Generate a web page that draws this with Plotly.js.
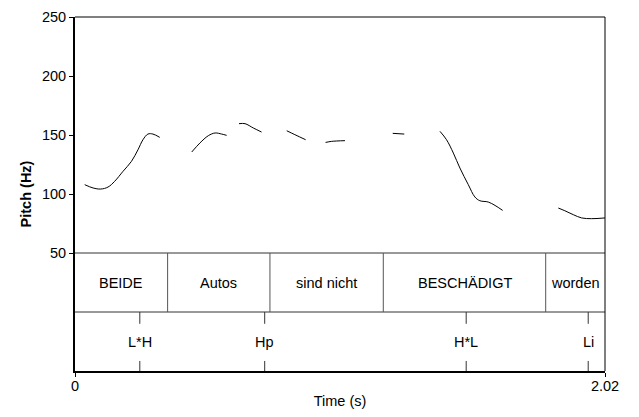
<!DOCTYPE html>
<html>
<head>
<meta charset="utf-8">
<script src="https://cdn.plot.ly/plotly-3.0.1.min.js"></script>
<style>html,body{margin:0;padding:0;background:#fff;}#chart{width:639px;height:417px;}</style>
</head>
<body>
<div id="chart"></div>
<script>
// Pitch contour (null = unvoiced gap)
const pitchTime = [0.037,0.069,0.098,0.126,0.151,0.183,0.215,0.240,0.259,0.278,0.297,0.323,null,
  0.445,0.476,0.508,0.534,0.559,0.578,null,
  0.625,0.648,0.680,0.711,null,
  0.807,0.838,0.879,null,
  0.955,0.978,1.029,null,
  1.211,1.255,null,
  1.391,1.416,1.442,1.467,1.499,1.524,1.543,1.575,1.601,1.630,null,
  1.842,1.867,1.899,1.931,1.969,2.02];
const pitchHz = [107.9,105.1,104.2,105.9,110.7,119.2,127.6,137.5,146,150.8,150.8,148,null,
  135.6,143.2,149.4,151.7,150.8,149.7,null,
  159.6,159.6,155.9,152.5,null,
  153.6,150.3,146,null,
  143.7,144.6,145.2,null,
  151.4,150.8,null,
  153.1,146,134.7,122,107.9,97.5,94.3,93.2,90.3,86.1,null,
  88.1,85.8,82.5,79.7,79.1,79.7];

// Word tier
const wordStart = [0, 0.353, 0.743, 1.175, 1.794];
const wordEnd = [0.353, 0.743, 1.175, 1.794, 2.02];
const wordLabels = ["BEIDE", "Autos", "sind nicht", "BESCHÄDIGT", "worden"];

// Tone tier
const toneTime = [0.247, 0.723, 1.491, 1.956];
const toneLabels = ["L*H", "Hp", "H*L", "Li"];

// Tier extents (Hz-axis units) and axis ticks
const tierWordTop = 50, tierWordBottom = 0, tierToneBottom = -50;
const yTicks = [50, 100, 150, 200, 250];
const xTickVals = [0, 2.02];
const xTickText = ["0", "2.02"];

const FONT = "Liberation Sans, Arial, Helvetica, sans-serif";
const FS = 14.5;

const shapes = [];
// horizontal tier lines
[tierWordTop, tierWordBottom].forEach(y => shapes.push({
  type: "line", xref: "x", yref: "y", x0: 0, x1: 2.02, y0: y, y1: y,
  line: {color: "#333", width: 1}
}));
// word boundaries
wordStart.slice(1).forEach(t => shapes.push({
  type: "line", xref: "x", yref: "y", x0: t, x1: t, y0: tierWordBottom, y1: tierWordTop,
  line: {color: "#555", width: 1}
}));
// tone ticks (top and bottom of tone tier)
toneTime.forEach(t => {
  shapes.push({type: "line", xref: "x", yref: "y", x0: t, x1: t, y0: tierWordBottom, y1: tierWordBottom - 10,
    line: {color: "#333", width: 1}});
  shapes.push({type: "line", xref: "x", yref: "y", x0: t, x1: t, y0: tierToneBottom, y1: tierToneBottom + 8.5,
    line: {color: "#333", width: 1}});
});
// thin top and right frame
shapes.push({type: "line", xref: "paper", yref: "paper", x0: 0, x1: 1, y0: 1, y1: 1, line: {color: "#000", width: 1}});
shapes.push({type: "line", xref: "paper", yref: "paper", x0: 1, x1: 1, y0: 0, y1: 1, line: {color: "#000", width: 1}});

const annotations = [];
wordLabels.forEach((w, i) => annotations.push({
  x: (wordStart[i] + wordEnd[i]) / 2, y: (tierWordTop + tierWordBottom) / 2, xref: "x", yref: "y",
  text: w, showarrow: false, font: {family: FONT, size: FS, color: "#000"}
}));
toneLabels.forEach((l, i) => annotations.push({
  x: toneTime[i], y: (tierWordBottom + tierToneBottom) / 2, xref: "x", yref: "y",
  text: l, showarrow: false, font: {family: FONT, size: FS, color: "#000"}
}));

const trace = {
  x: pitchTime, y: pitchHz, type: "scatter", mode: "lines",
  line: {color: "#000", width: 1, shape: "spline", smoothing: 1},
  connectgaps: false, hoverinfo: "skip"
};

const layout = {
  width: 639, height: 417,
  margin: {l: 75, r: 34, t: 17, b: 46},
  paper_bgcolor: "#fff", plot_bgcolor: "#fff",
  showlegend: false,
  font: {family: FONT, size: FS, color: "#000"},
  xaxis: {
    range: [0, 2.02], tickvals: xTickVals, ticktext: xTickText,
    ticks: "outside", ticklen: 4, tickwidth: 1, tickcolor: "#000",
    ticklabelstandoff: -3,
    showline: true, linewidth: 2, linecolor: "#000", showgrid: false, zeroline: false,
    title: {text: "Time (s)", font: {family: FONT, size: FS}, standoff: 2},
    tickfont: {family: FONT, size: FS}
  },
  yaxis: {
    range: [-50, 250], tickvals: yTicks,
    ticks: "outside", ticklen: 4, tickwidth: 1, tickcolor: "#000",
    showline: true, linewidth: 2, linecolor: "#000", showgrid: false, zeroline: false,
    title: {text: "<b>Pitch (Hz)</b>", font: {family: FONT, size: FS}, standoff: 7},
    tickfont: {family: FONT, size: FS}
  },
  shapes: shapes,
  annotations: annotations
};

Plotly.newPlot("chart", [trace], layout, {displayModeBar: false, staticPlot: true});
</script>
</body>
</html>
